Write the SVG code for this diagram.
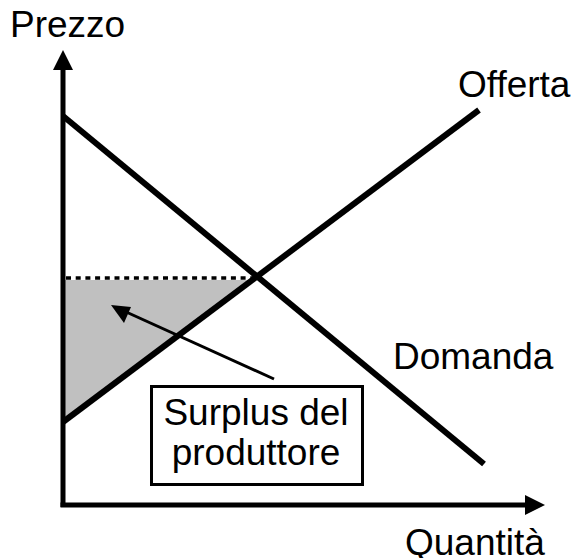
<svg xmlns="http://www.w3.org/2000/svg" width="574" height="558" viewBox="0 0 574 558">
<style>
.t{font-family:"Liberation Sans",Arial,sans-serif;font-size:37px;fill:#000}
.ax{stroke:#000;stroke-width:5;fill:none}
.cur{stroke:#000;stroke-width:6;fill:none}
</style>
<rect width="574" height="558" fill="#fff"/>
<g id="surplus-area">
<polygon points="63,280 251,280 63,419" fill="#c0c0c0"/>
</g>
<g id="axes">
<line class="ax" x1="63" y1="68" x2="63" y2="507"/>
<polygon points="63,50 53,70 73,70" fill="#000"/>
<line class="ax" x1="60.5" y1="505" x2="527" y2="505"/>
<polygon points="545,505 525,495 525,515" fill="#000"/>
</g>
<g id="connectors">
<line x1="66" y1="278" x2="256" y2="278" stroke="#000" stroke-width="3.5" stroke-dasharray="5,4.7"/>
<line class="cur" x1="63" y1="116" x2="484" y2="464"/>
<line class="cur" x1="63" y1="422" x2="479" y2="110"/>
<line x1="274" y1="379" x2="124" y2="311" stroke="#000" stroke-width="3"/>
<polygon points="111,305 131,307 124,323" fill="#000"/>
</g>
<g id="labels">
<text class="t" x="10" y="37">Prezzo</text>
<text class="t" x="458" y="97">Offerta</text>
<text class="t" x="393" y="369">Domanda</text>
<text class="t" x="405" y="555">Quantità</text>
</g>
<g id="box">
<rect x="151.5" y="386.5" width="211" height="98" fill="#fff" stroke="#000" stroke-width="3"/>
<text class="t" x="256" y="425" text-anchor="middle">Surplus del</text>
<text class="t" x="256" y="465" text-anchor="middle">produttore</text>
</g>
</svg>
